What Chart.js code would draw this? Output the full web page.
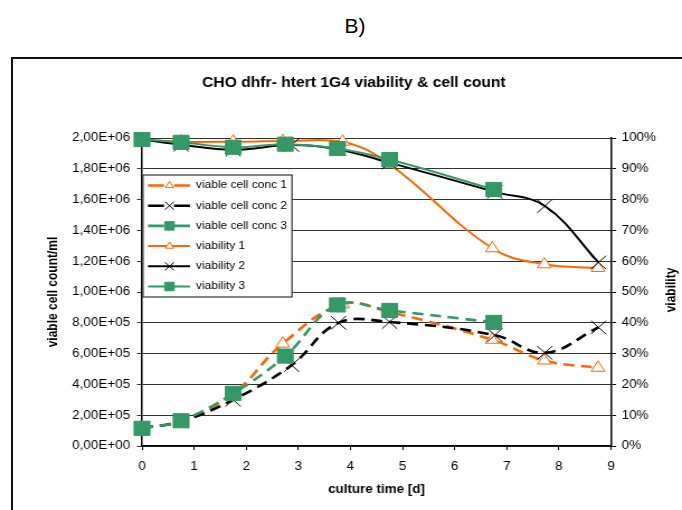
<!DOCTYPE html>
<html>
<head>
<meta charset="utf-8">
<script src="https://cdn.jsdelivr.net/npm/chart.js@4.4.1/dist/chart.umd.min.js"></script>
<style>
  html, body { margin: 0; padding: 0; background: #fff; }
  body { width: 682px; height: 510px; position: relative; overflow: hidden; font-family: "Liberation Sans", Arial, sans-serif; }
  #panel { position: absolute; left: 0; top: 15px; width: 710px; text-align: center; font-size: 21px; line-height: 21px; }
  #frame { position: absolute; left: 11px; top: 57px; width: 700px; height: 500px; border: 2px solid #111; }
  #chart { position: absolute; left: 0; top: 0; }
</style>
</head>
<body>
<div id="panel">B)</div>
<div id="frame"></div>
<!-- drawn 610 wide, shown 682 wide -->
<canvas id="chart" width="610" height="510" style="width:682px;height:510px"></canvas>
<script>
// sampling days of each run
const days1 = [0, 0.75, 1.75, 2.7, 3.85, 4.75, 6.72, 7.72, 8.75];
const days2 = [0, 0.75, 1.75, 2.87, 3.77, 4.75, 6.77, 7.73, 8.76];
const days3 = [0, 0.75, 1.75, 2.75, 3.75, 4.75, 6.75];

// viable cells / ml
const conc1 = [115000, 165000, 340000, 665000, 920000, 870000, 690000, 555000, 508000];
const conc2 = [115000, 160000, 300000, 525000, 800000, 805000, 720000, 605000, 770000];
const conc3 = [115000, 164000, 342000, 584000, 916000, 880000, 803000];

// viability in %
const viab1 = [99.5, 98.8, 98.8, 99, 98.8, 91.5, 64.2, 59, 57.8];
const viab2 = [99.5, 97.8, 96.2, 97.7, 96.3, 92, 82.5, 77.9, 59.6];
const viab3 = [99.5, 98.6, 97, 98, 96.6, 93, 83.3];

const countTicks = [0, 200000, 400000, 600000, 800000, 1000000, 1200000, 1400000, 1600000, 1800000, 2000000];

const W = 610;
const SX = 682 / W;
const cx = v => v / SX;   // page x -> canvas x

const FONT = '"Liberation Sans", Arial, sans-serif';
const ORANGE = '#ff6600';
const GREEN = '#339966';
const BLACK = '#000000';

Chart.defaults.font.family = FONT;
Chart.defaults.color = '#000';

function points(xs, ys) {
    return xs.map((x, i) => ({ x: x, y: ys[i] }));
}

// 2,00E+06 style labels
function sciLabel(v) {
    if (v === 0) return '0,00E+00';
    const e = Math.floor(Math.log10(v) + 1e-9);
    const m = v / Math.pow(10, e);
    return m.toFixed(2).replace('.', ',') + 'E+' + String(e).padStart(2, '0');
}

function series(label, xs, ys, axis, color, style, radius, dashed, order) {
    const hollow = style === 'triangle';
    return {
        label: label,
        data: points(xs, ys),
        yAxisID: axis,
        borderColor: color,
        borderWidth: dashed ? 2.6 : 2,
        borderDash: dashed ? [10, 6] : [],
        pointStyle: style,
        pointRadius: radius,
        pointBackgroundColor: hollow ? '#fff' : color,
        pointBorderColor: color,
        pointBorderWidth: 1,
        clip: false,
        order: order
    };
}

// legend box inside the plot + right axis title
const extras = {
    id: 'extras',
    afterDraw(chart) {
        const c = chart.ctx;
        const left = cx(143), right = cx(292), top = 175, bottom = 297;
        c.save();
        c.fillStyle = '#fff';
        c.fillRect(left, top, right - left, bottom - top);
        c.strokeStyle = '#333';
        c.lineWidth = 1.2;
        c.strokeRect(left, top, right - left, bottom - top);

        c.font = '10.7px ' + FONT;
        c.textBaseline = 'middle';
        chart.data.datasets.forEach((ds, i) => {
            const y = 185.5 + i * 20.2;
            c.strokeStyle = ds.borderColor;
            c.lineWidth = ds.borderWidth;
            c.setLineDash(ds.borderDash.length ? [cx(16), cx(10)] : []);
            c.beginPath();
            c.moveTo(cx(148), y);
            c.lineTo(cx(190), y);
            c.stroke();
            c.setLineDash([]);
            c.fillStyle = ds.pointBackgroundColor;
            c.strokeStyle = ds.pointBorderColor;
            c.lineWidth = 1;
            Chart.helpers.drawPoint(c, { pointStyle: ds.pointStyle, radius: ds.pointRadius * 0.6, borderWidth: 1, rotation: 0 }, cx(169.5), y);
            c.fillStyle = '#000';
            c.fillText(ds.label, cx(196), y);
        });

        c.translate(cx(672), 290);
        c.rotate(-Math.PI / 2);
        c.font = 'bold 12px ' + FONT;
        c.textAlign = 'center';
        c.fillText('viability', 0, 0);
        c.restore();
    }
};

const ctx = document.getElementById('chart').getContext('2d');

new Chart(ctx, {
    type: 'line',
    data: {
        datasets: [
            series('viable cell conc 1', days1, conc1, 'y', ORANGE, 'triangle', 7, true, 5),
            series('viable cell conc 2', days2, conc2, 'y', BLACK, 'crossRot', 9.5, true, 3),
            series('viable cell conc 3', days3, conc3, 'y', GREEN, 'rect', 10, true, 1),
            series('viability 1', days1, viab1, 'y1', ORANGE, 'triangle', 7, false, 4),
            series('viability 2', days2, viab2, 'y1', BLACK, 'crossRot', 9.5, false, 2),
            series('viability 3', days3, viab3, 'y1', GREEN, 'rect', 10, false, 0)
        ]
    },
    options: {
        responsive: false,
        animation: false,
        events: [],
        layout: { padding: { left: 23, right: 0, top: 60, bottom: 0 } },
        elements: { line: { tension: 0.4, fill: false } },
        plugins: {
            legend: { display: false },
            tooltip: { enabled: false },
            title: {
                display: true,
                text: 'CHO dhfr- htert 1G4 viability & cell count',
                color: '#000',
                font: { size: 14, weight: 'bold' },
                padding: { top: 15, bottom: 46.2 }
            }
        },
        scales: {
            x: {
                type: 'linear',
                min: 0,
                max: 9,
                ticks: { stepSize: 1, padding: 9.5, font: { size: 12 } },
                grid: { drawOnChartArea: false, tickLength: 4, color: '#000' },
                border: { color: '#000', width: 1.5 },
                title: { display: true, text: 'culture time [d]', font: { size: 12, weight: 'bold' }, padding: { top: 0, bottom: 12.8 } },
                afterFit: s => { s.height = 64; }
            },
            y: {
                position: 'left',
                min: 0,
                max: 2000000,
                afterBuildTicks: s => { s.ticks = countTicks.map(v => ({ value: v })); },
                ticks: { callback: sciLabel, padding: 6.2, font: { size: 12 } },
                grid: { color: '#333', tickLength: 4.5 },
                border: { color: '#000', width: 1.5 },
                title: { display: true, text: 'viable cell count/ml', font: { size: 12, weight: 'bold' }, padding: { top: 17.2, bottom: 0 } },
                afterFit: s => { s.width = cx(142) - 23; }
            },
            y1: {
                position: 'right',
                min: 0,
                max: 100,
                ticks: { stepSize: 10, callback: v => v + '%', padding: 5, font: { size: 12 } },
                grid: { drawOnChartArea: false, tickLength: 4.5, color: '#000' },
                border: { color: '#000', width: 1.5 },
                afterFit: s => { s.width = W - cx(611); }
            }
        }
    },
    plugins: [extras]
});
</script>
</body>
</html>
